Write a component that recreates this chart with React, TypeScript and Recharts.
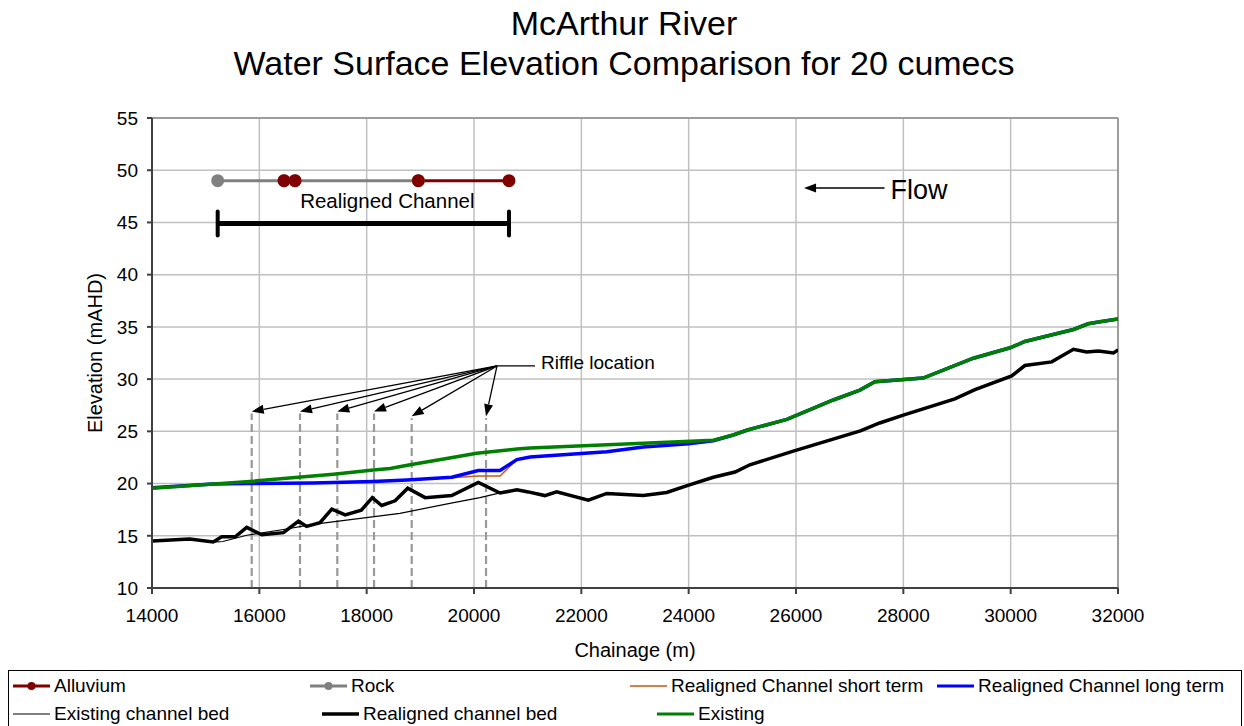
import React from "react"
import { LineChart, Line, XAxis, YAxis, CartesianGrid, ReferenceLine } from "recharts"

// axis ticks
const xTicks = [14000, 16000, 18000, 20000, 22000, 24000, 26000, 28000, 30000, 32000]
const yTicks = [10, 15, 20, 25, 30, 35, 40, 45, 50, 55]

// [chainage, elevation]
const realignedBed: [number, number][] = [
  [14000, 14.5], [14700, 14.7], [15140, 14.4], [15300, 14.9], [15550, 14.9], [15765, 15.8],
  [16045, 15.1], [16450, 15.3], [16730, 16.4], [16880, 15.9], [17130, 16.25], [17350, 17.55],
  [17600, 17.0], [17900, 17.45], [18105, 18.65], [18280, 17.9], [18530, 18.35], [18765, 19.55],
  [19090, 18.65], [19585, 18.85], [20080, 20.1], [20485, 19.1], [20800, 19.4], [21010, 19.2],
  [21320, 18.85], [21540, 19.2], [22130, 18.4], [22475, 19.05], [23155, 18.85], [23590, 19.15],
  [24000, 19.85], [24460, 20.6], [24865, 21.1], [25140, 21.8], [25950, 23.1], [27200, 25.05],
  [27560, 25.8], [28000, 26.55], [28960, 28.1], [29335, 29.0], [30020, 30.3], [30265, 31.3],
  [30765, 31.65], [31170, 32.85], [31415, 32.6], [31635, 32.7], [31915, 32.5], [32000, 32.8],
]

const existingBed: [number, number][] = [
  [14000, 14.5], [14700, 14.7], [15140, 14.4], [15320, 14.45], [15765, 15.05], [16450, 15.6],
  [17000, 16.1], [18620, 17.15], [19550, 18.1], [20110, 18.65], [20485, 19.1], [20800, 19.4],
  [21010, 19.2], [21320, 18.85], [21540, 19.2], [22130, 18.4], [22475, 19.05], [23155, 18.85],
  [23590, 19.15], [24000, 19.85], [24460, 20.6], [24865, 21.1], [25140, 21.8], [25950, 23.1],
  [27200, 25.05], [27560, 25.8], [28000, 26.55], [28960, 28.1], [29335, 29.0], [30020, 30.3],
  [30265, 31.3], [30765, 31.65], [31170, 32.85], [31415, 32.6], [31635, 32.7], [31915, 32.5],
  [32000, 32.8],
]

const existingWS: [number, number][] = [
  [14000, 19.55], [15826, 20.2], [17380, 20.9], [18125, 21.3], [18435, 21.45], [18810, 21.8],
  [19490, 22.4], [20050, 22.9], [20800, 23.3], [21045, 23.4], [23155, 23.85], [24460, 24.15],
  [24830, 24.65], [25080, 25.1], [25830, 26.15], [26695, 28.0], [27190, 28.95], [27470, 29.75],
  [28370, 30.1], [29305, 32.0], [29990, 33.0], [30265, 33.6], [31170, 34.75], [31445, 35.3],
  [31665, 35.5], [32000, 35.75],
]

const longTerm: [number, number][] = [
  [14000, 19.6], [15140, 19.95], [15800, 20.0], [17000, 20.05], [18120, 20.2], [18750, 20.35],
  [19585, 20.6], [20080, 21.25], [20485, 21.25], [20800, 22.3], [21045, 22.55], [22475, 23.05],
  [23155, 23.5], [24000, 23.8], [24460, 24.1], [24830, 24.65], [25080, 25.1], [25830, 26.15],
  [26695, 28.0], [27190, 28.95], [27470, 29.75], [28370, 30.1], [29305, 32.0], [29990, 33.0],
  [30265, 33.6], [31170, 34.75], [31445, 35.3], [31665, 35.5], [32000, 35.75],
]

const shortTerm: [number, number][] = [
  [14000, 19.6], [15140, 19.95], [15800, 20.0], [17000, 20.05], [18120, 20.2], [18750, 20.35],
  [19585, 20.55], [20080, 20.72], [20485, 20.72], [20800, 22.3], [21045, 22.55], [22475, 23.05],
  [23155, 23.5], [24000, 23.8], [24460, 24.1], [24830, 24.65], [25080, 25.1], [25830, 26.15],
  [26695, 28.0], [27190, 28.95], [27470, 29.75], [28370, 30.1], [29305, 32.0], [29990, 33.0],
  [30265, 33.6], [31170, 34.75], [31445, 35.3], [31665, 35.5], [32000, 35.75],
]

const rock: [number, number][] = [[15224, 49], [16460, 49], [16665, 49], [18963, 49]]
const alluvium: [number, number | null][] = [[16460, 49], [16665, 49], [16800, null], [18963, 49], [20652, 49]]

// annotations
const realignedReach = [15224, 20652]
const realignedBarY = 44.9
const riffleX = [15858, 16758, 17453, 18137, 18839, 20224]
const riffleTop = [26.7, 26.7, 26.7, 26.7, 26.25, 26.25]
const riffleHub = { x: 20429, y: 31.26 }
const riffleLabelX = 21137
const flowArrow = { from: 27650, to: 26150, y: 48.3 }

const toPts = (arr: [number, number | null][]) => arr.map(([x, y]) => ({ x, y }))

const font = "'Liberation Sans', Arial, sans-serif"

function arrowShape(props: any) {
  const { x1, y1, x2, y2 } = props
  const dx = x2 - x1
  const dy = y2 - y1
  const len = Math.sqrt(dx * dx + dy * dy) || 1
  const ux = dx / len
  const uy = dy / len
  const hl = 12
  const hw = 4.5
  const bx = x2 - ux * hl
  const by = y2 - uy * hl
  return (
    <g>
      <line x1={x1} y1={y1} x2={bx} y2={by} stroke="#000" strokeWidth={1.3} />
      <polygon
        points={`${x2},${y2} ${bx - uy * hw},${by + ux * hw} ${bx + uy * hw},${by - ux * hw}`}
        fill="#000"
      />
    </g>
  )
}

function barShape(props: any) {
  const { x1, y1, x2, y2 } = props
  return (
    <g>
      <line x1={x1} y1={y1} x2={x2} y2={y2} stroke="#000" strokeWidth={5} />
      <line x1={x1} y1={y1 - 12} x2={x1} y2={y1 + 12} stroke="#000" strokeWidth={4} strokeLinecap="round" />
      <line x1={x2} y1={y2 - 12} x2={x2} y2={y2 + 12} stroke="#000" strokeWidth={4} strokeLinecap="round" />
      <text x={(x1 + x2) / 2 + 24} y={y1 - 15} textAnchor="middle" fontSize={20.5} fontFamily={font} fill="#000">
        Realigned Channel
      </text>
    </g>
  )
}

function flowShape(props: any) {
  const { x1, y1 } = props
  return (
    <g>
      {arrowShape(props)}
      <text x={x1 + 6} y={y1 + 11} fontSize={27} fontFamily={font} fill="#000">
        Flow
      </text>
    </g>
  )
}

function riffleLabelShape(props: any) {
  const { x1, y1, x2, y2 } = props
  return (
    <g>
      <line x1={x1} y1={y1} x2={x2} y2={y2} stroke="#000" strokeWidth={1.3} />
      <text x={x2 + 6} y={y2 + 3} fontSize={19} fontFamily={font} fill="#000">
        Riffle location
      </text>
    </g>
  )
}

const legendRows = [
  [
    { name: "Alluvium", color: "#800000", w: 3, dot: true, left: 13 },
    { name: "Rock", color: "#808080", w: 3, dot: true, left: 310 },
    { name: "Realigned Channel short term", color: "#c65911", w: 1.5, dot: false, left: 630 },
    { name: "Realigned Channel long term", color: "#0000ff", w: 3, dot: false, left: 937 },
  ],
  [
    { name: "Existing channel bed", color: "#000", w: 1.2, dot: false, left: 13 },
    { name: "Realigned channel bed", color: "#000", w: 3.5, dot: false, left: 322 },
    { name: "Existing", color: "#008000", w: 3, dot: false, left: 657 },
  ],
]

export default function App() {
  return (
    <div style={{ position: "absolute", left: 0, top: 0, width: 1244, height: 726, background: "#fff", fontFamily: font, overflow: "hidden" }}>
      <div style={{ position: "absolute", left: 0, width: 1248, top: 3, textAlign: "center", fontSize: 34, lineHeight: "40px", color: "#000" }}>
        McArthur River
        <br />
        Water Surface Elevation Comparison for 20 cumecs
      </div>
      <LineChart
        width={1244}
        height={726}
        margin={{ top: 118, right: 126, bottom: 88, left: 92 }}
        style={{ position: "absolute", left: 0, top: 0 }}
      >
        <CartesianGrid stroke="#c0c0c0" strokeWidth={1.5} />
        <XAxis
          type="number"
          dataKey="x"
          domain={[14000, 32000]}
          ticks={xTicks}
          allowDataOverflow
          height={50}
          tickSize={6}
          tickMargin={15}
          stroke="#404040"
          strokeWidth={2}
          tick={{ fill: "#000", fontSize: 19, fontFamily: font }}
          label={{ value: "Chainage (m)", position: "bottom", offset: 5, fill: "#000", fontSize: 20, fontFamily: font }}
        />
        <YAxis
          type="number"
          dataKey="y"
          domain={[10, 55]}
          ticks={yTicks}
          allowDataOverflow
          width={60}
          tickSize={5}
          tickMargin={9}
          stroke="#404040"
          strokeWidth={2}
          tick={{ fill: "#000", fontSize: 19, fontFamily: font }}
          label={{ value: "Elevation (mAHD)", angle: -90, position: "insideLeft", offset: 3, fill: "#000", fontSize: 20, fontFamily: font, style: { textAnchor: "middle" } }}
        />
        <ReferenceLine y={55} stroke="#8c8c8c" strokeWidth={1.5} />
        <ReferenceLine x={32000} stroke="#8c8c8c" strokeWidth={1.5} />

        {riffleX.map((x, i) => (
          <ReferenceLine
            key={"d" + i}
            segment={[{ x, y: 10 }, { x, y: riffleTop[i] }]}
            stroke="#999"
            strokeWidth={2.2}
            strokeDasharray="8 4"
          />
        ))}
        {riffleX.map((x, i) => (
          <ReferenceLine
            key={"a" + i}
            segment={[{ x: riffleHub.x, y: riffleHub.y }, { x, y: riffleTop[i] + 0.2 }]}
            shape={arrowShape}
          />
        ))}
        <ReferenceLine
          segment={[{ x: riffleHub.x, y: riffleHub.y }, { x: riffleLabelX, y: riffleHub.y }]}
          shape={riffleLabelShape}
        />
        <ReferenceLine
          segment={[{ x: realignedReach[0], y: realignedBarY }, { x: realignedReach[1], y: realignedBarY }]}
          shape={barShape}
        />
        <ReferenceLine
          segment={[{ x: flowArrow.from, y: flowArrow.y }, { x: flowArrow.to, y: flowArrow.y }]}
          shape={flowShape}
        />

        <Line data={toPts(rock)} dataKey="y" stroke="#808080" strokeWidth={3} dot={{ r: 5, fill: "#808080", stroke: "#808080" }} isAnimationActive={false} />
        <Line data={toPts(alluvium)} dataKey="y" stroke="#800000" strokeWidth={3} dot={{ r: 5, fill: "#800000", stroke: "#800000" }} isAnimationActive={false} />
        <Line data={toPts(shortTerm)} dataKey="y" stroke="#c65911" strokeWidth={1.5} dot={false} isAnimationActive={false} />
        <Line data={toPts(longTerm)} dataKey="y" stroke="#0000ff" strokeWidth={3.5} dot={false} isAnimationActive={false} />
        <Line data={toPts(existingBed)} dataKey="y" stroke="#000" strokeWidth={1.2} dot={false} isAnimationActive={false} />
        <Line data={toPts(realignedBed)} dataKey="y" stroke="#000" strokeWidth={3.5} dot={false} isAnimationActive={false} />
        <Line data={toPts(existingWS)} dataKey="y" stroke="#008000" strokeWidth={3.5} dot={false} isAnimationActive={false} />
      </LineChart>

      <div style={{ position: "absolute", left: 8, top: 670, width: 1232, height: 70, border: "1px solid #000", background: "#fff" }}>
        {legendRows.map((row, ri) =>
          row.map((item) => (
            <div key={item.name} style={{ position: "absolute", left: item.left - 9, top: 4 + ri * 28, height: 22, display: "flex", alignItems: "center", fontSize: 19, color: "#000", whiteSpace: "nowrap" }}>
              <svg width={37} height={22} style={{ marginRight: 4 }}>
                <line x1={0} y1={11} x2={37} y2={11} stroke={item.color} strokeWidth={item.w} />
                {item.dot && <circle cx={18.5} cy={11} r={4} fill={item.color} />}
              </svg>
              {item.name}
            </div>
          ))
        )}
      </div>
    </div>
  )
}
